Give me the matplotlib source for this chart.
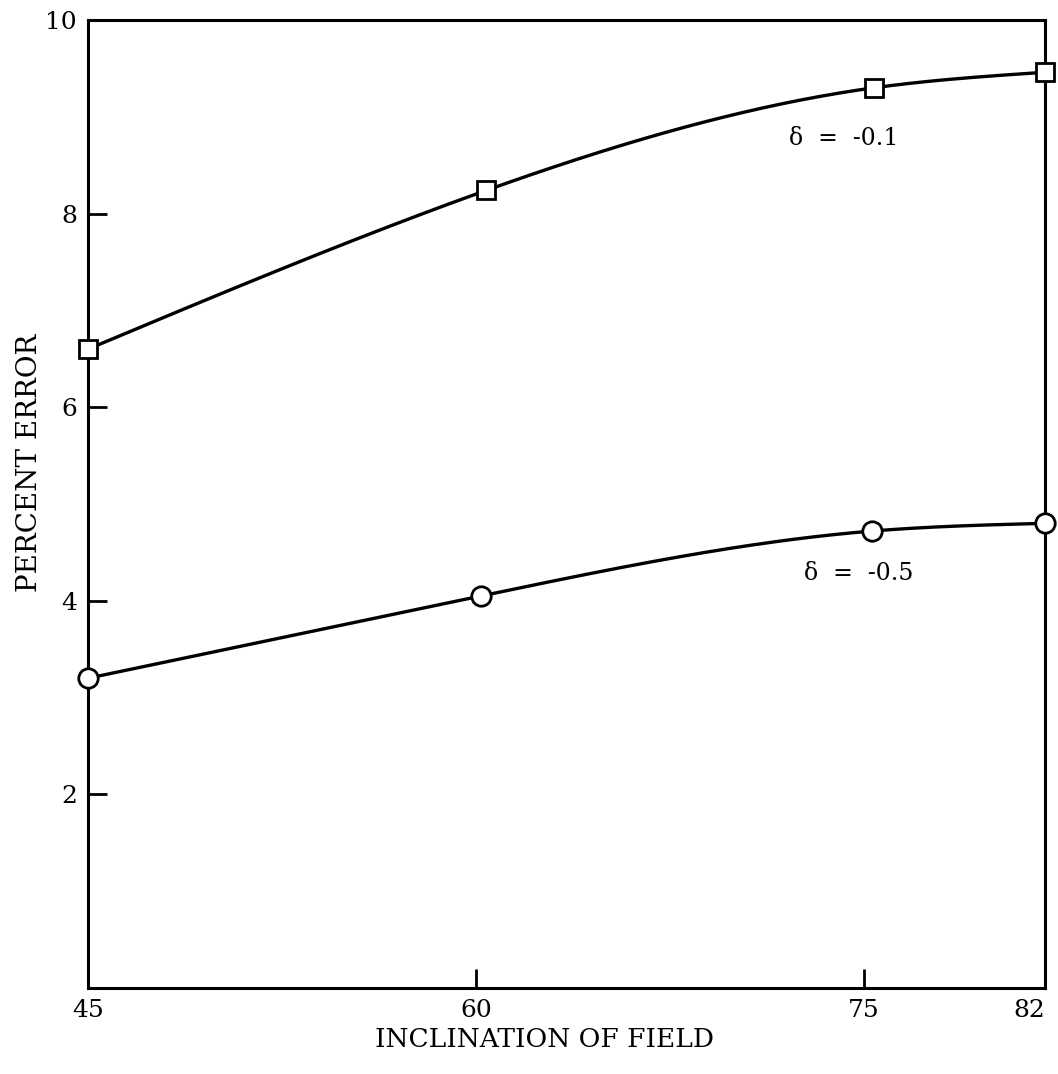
import numpy as np
import matplotlib.pyplot as plt
from matplotlib.ticker import FixedLocator

# values
incl_sq = [45, 60.4, 75.4, 82]
err_sq = [6.6, 8.24, 9.3, 9.46]
incl_ci = [45, 60.2, 75.3, 82]
err_ci = [3.2, 4.05, 4.72, 4.8]
xticks = [45, 60, 75, 82]
yticks = [2, 4, 6, 8, 10]


def smooth(x, y, n=200):
    # natural cubic spline, just for drawing the curve between the points
    x = np.asarray(x, float)
    y = np.asarray(y, float)
    k = len(x)
    h = np.diff(x)
    A = np.zeros((k, k))
    b = np.zeros(k)
    A[0, 0] = A[-1, -1] = 1
    for i in range(1, k - 1):
        A[i, i - 1] = h[i - 1]
        A[i, i] = 2 * (h[i - 1] + h[i])
        A[i, i + 1] = h[i]
        b[i] = 6 * ((y[i + 1] - y[i]) / h[i] - (y[i] - y[i - 1]) / h[i - 1])
    M = np.linalg.solve(A, b)
    xs = np.linspace(x[0], x[-1], n)
    j = np.clip(np.searchsorted(x, xs) - 1, 0, k - 2)
    t0 = x[j + 1] - xs
    t1 = xs - x[j]
    hj = h[j]
    ys = (M[j] * t0**3 + M[j + 1] * t1**3) / (6 * hj) \
        + (y[j] / hj - M[j] * hj / 6) * t0 + (y[j + 1] / hj - M[j + 1] * hj / 6) * t1
    return xs, ys


plt.rcParams['font.family'] = ['DejaVu Serif']
fig = plt.figure(figsize=(10.58, 10.74), dpi=100)
ax = fig.add_axes([0.0832, 0.0801, 0.9045, 0.9013])

for xv, yv, mk, ms in [(incl_sq, err_sq, 's', 13), (incl_ci, err_ci, 'o', 14)]:
    xs, ys = smooth(xv, yv)
    ax.plot(xs, ys, color='black', lw=2.4, clip_on=False, zorder=2)
    ax.plot(xv, yv, mk, ms=ms, mfc='white', mec='black', mew=2, clip_on=False, zorder=3)

ax.set_xlim(45, 82)
ax.set_ylim(0, 10)
ax.xaxis.set_major_locator(FixedLocator(xticks))
ax.yaxis.set_major_locator(FixedLocator(yticks))
ax.set_yticklabels([str(v) for v in yticks])
ax.set_xticklabels([str(v) for v in xticks], ha='center')
ax.get_xticklabels()[-1].set_horizontalalignment('right')
ax.tick_params(direction='in', length=14, width=2, labelsize=18, pad=8)
for s in ax.spines.values():
    s.set_linewidth(2.2)

ax.text(72.1, 8.78, 'δ  =  -0.1', fontsize=17, va='center')
ax.text(72.7, 4.28, 'δ  =  -0.5', fontsize=17, va='center')

fig.text(0.028, 0.569, 'PERCENT ERROR', rotation=90, fontsize=20, ha='center', va='center')
fig.text(0.515, 0.032, 'INCLINATION OF FIELD', fontsize=19, ha='center', va='center')

fig.savefig('out.png', dpi=100)
